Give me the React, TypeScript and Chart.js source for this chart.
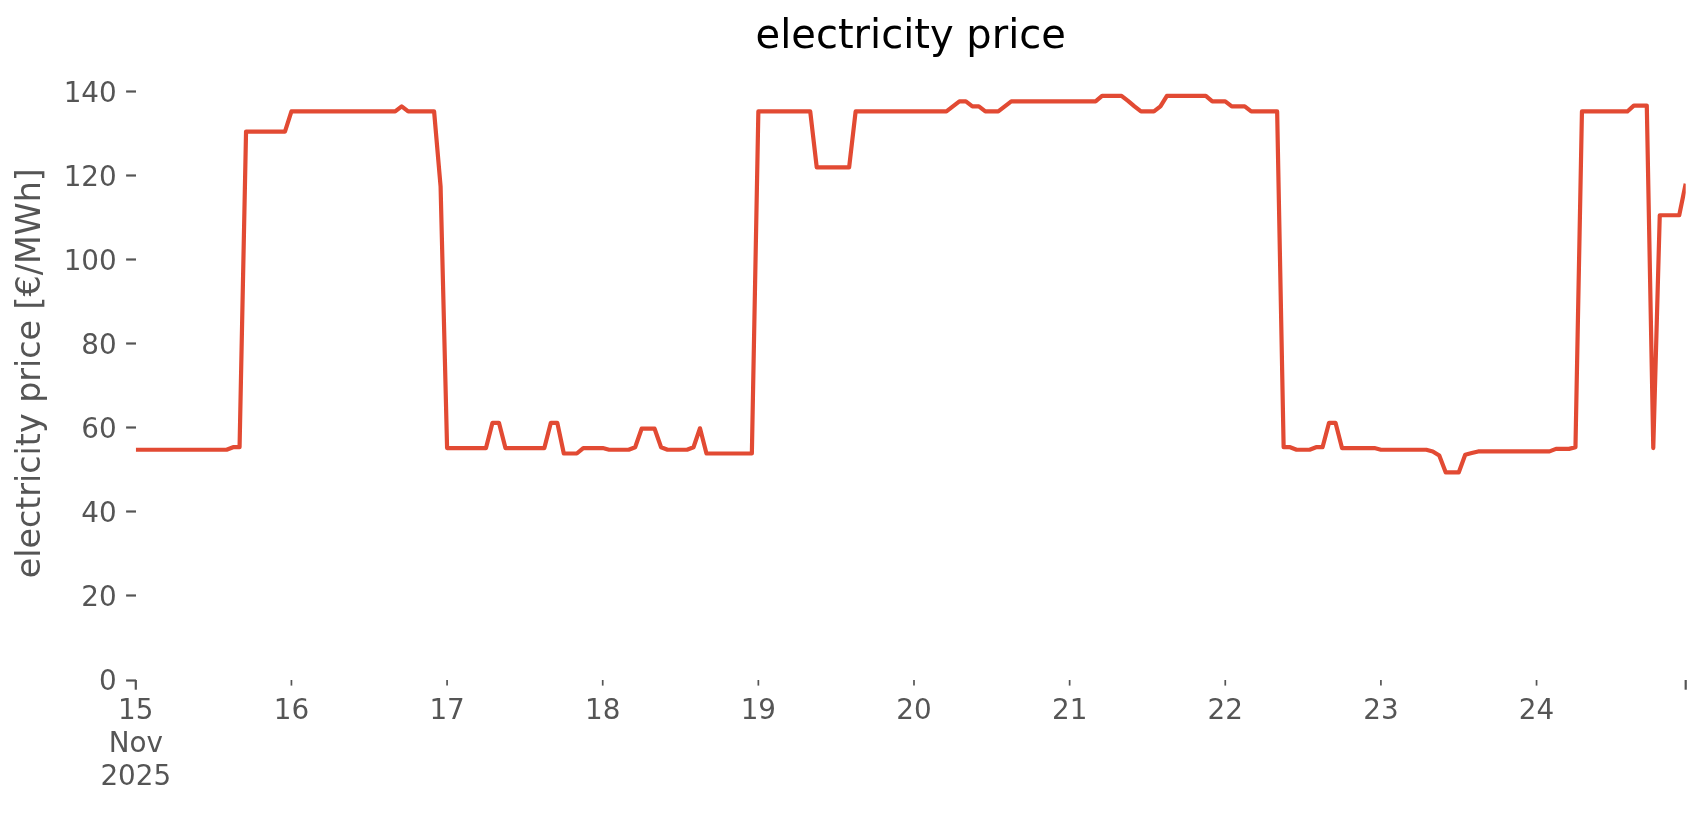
import React, { useEffect, useRef } from "react";
import { Chart, registerables } from "chart.js";

Chart.register(...registerables);

// Hourly electricity prices [€/MWh], one array per day (00:00 .. 23:00)
const nov15 = [54.8, 54.8, 54.8, 54.8, 54.8, 54.8, 54.8, 54.8, 54.8, 54.8, 54.8, 54.8, 54.8, 54.8, 54.8, 55.4, 55.4, 130.5, 130.5, 130.5, 130.5, 130.5, 130.5, 130.5];
const nov16 = [135.3, 135.3, 135.3, 135.3, 135.3, 135.3, 135.3, 135.3, 135.3, 135.3, 135.3, 135.3, 135.3, 135.3, 135.3, 135.3, 135.3, 136.5, 135.3, 135.3, 135.3, 135.3, 135.3, 117.4];
const nov17 = [55.2, 55.2, 55.2, 55.2, 55.2, 55.2, 55.2, 61.2, 61.2, 55.2, 55.2, 55.2, 55.2, 55.2, 55.2, 55.2, 61.2, 61.2, 53.9, 53.9, 53.9, 55.2, 55.2, 55.2];
const nov18 = [55.2, 54.8, 54.8, 54.8, 54.8, 55.4, 59.8, 59.8, 59.8, 55.4, 54.8, 54.8, 54.8, 54.8, 55.4, 59.9, 53.9, 53.9, 53.9, 53.9, 53.9, 53.9, 53.9, 53.9];
const nov19 = [135.3, 135.3, 135.3, 135.3, 135.3, 135.3, 135.3, 135.3, 135.3, 122.0, 122.0, 122.0, 122.0, 122.0, 122.0, 135.3, 135.3, 135.3, 135.3, 135.3, 135.3, 135.3, 135.3, 135.3];
const nov20 = [135.3, 135.3, 135.3, 135.3, 135.3, 135.3, 136.5, 137.7, 137.7, 136.5, 136.5, 135.3, 135.3, 135.3, 136.5, 137.7, 137.7, 137.7, 137.7, 137.7, 137.7, 137.7, 137.7, 137.7];
const nov21 = [137.7, 137.7, 137.7, 137.7, 137.7, 139.0, 139.0, 139.0, 139.0, 137.8, 136.5, 135.3, 135.3, 135.3, 136.5, 139.0, 139.0, 139.0, 139.0, 139.0, 139.0, 139.0, 137.7, 137.7];
const nov22 = [137.7, 136.5, 136.5, 136.5, 135.3, 135.3, 135.3, 135.3, 135.3, 55.4, 55.4, 54.8, 54.8, 54.8, 55.4, 55.4, 61.2, 61.2, 55.2, 55.2, 55.2, 55.2, 55.2, 55.2];
const nov23 = [54.8, 54.8, 54.8, 54.8, 54.8, 54.8, 54.8, 54.8, 54.4, 53.4, 49.4, 49.4, 49.4, 53.6, 54.0, 54.4, 54.4, 54.4, 54.4, 54.4, 54.4, 54.4, 54.4, 54.4];
const nov24 = [54.4, 54.4, 54.4, 55.0, 55.0, 55.0, 55.4, 135.3, 135.3, 135.3, 135.3, 135.3, 135.3, 135.3, 135.3, 136.7, 136.7, 136.7, 55.2, 110.6, 110.6, 110.6, 110.6, 118.1];

const dayLabels = ["15", "16", "17", "18", "19", "20", "21", "22", "23", "24"];
const monthLabel = "Nov";
const yearLabel = "2025";
const yTickValues = [0, 20, 40, 60, 80, 100, 120, 140];
const titleText = "electricity price";
const yAxisLabel = "electricity price [€/MWh]";

const prices = [...nov15, ...nov16, ...nov17, ...nov18, ...nov19, ...nov20, ...nov21, ...nov22, ...nov23, ...nov24];
const hoursPerDay = 24;
const lastHour = prices.length - 1;
const points = prices.map((v, i) => ({ x: i, y: v }));
const xTickValues = [...dayLabels.map((_, i) => i * hoursPerDay), lastHour];
const xTickLabels: (string | string[])[] = [
  [dayLabels[0], monthLabel, yearLabel],
  ...dayLabels.slice(1),
  "",
];

const FONT = "DejaVu Sans";
const GREY = "#555555";
const LINE = "#E24A33";

const xTickPlugin = {
  id: "xTickMarks",
  afterDraw(chart: any) {
    const sx = chart.scales.x;
    const ctx = chart.ctx;
    const y0 = chart.chartArea.bottom;
    ctx.save();
    ctx.strokeStyle = GREY;
    sx.ticks.forEach((t: any, i: number) => {
      const major = i === 0 || i === sx.ticks.length - 1;
      const px = sx.getPixelForValue(t.value);
      ctx.lineWidth = major ? 2.2 : 1.7;
      ctx.beginPath();
      ctx.moveTo(px, y0);
      ctx.lineTo(px, y0 + (major ? 9.7 : 5.6));
      ctx.stroke();
    });
    ctx.restore();
  },
};

export default function App() {
  const ref = useRef<HTMLCanvasElement | null>(null);

  useEffect(() => {
    document.body.style.margin = "0";
    const canvas = ref.current;
    if (!canvas) return;
    const chart = new Chart(canvas, {
      type: "line",
      data: {
        datasets: [
          {
            data: points,
            borderColor: LINE,
            backgroundColor: LINE,
            borderWidth: 4.2,
            pointRadius: 0,
            tension: 0,
            borderJoinStyle: "round",
            clip: 0,
          } as any,
        ],
      },
      options: {
        animation: false,
        responsive: false,
        devicePixelRatio: 1,
        layout: { padding: { left: 0, right: 20.3, top: 0, bottom: 0 } },
        plugins: {
          legend: { display: false },
          tooltip: { enabled: false },
          title: {
            display: true,
            fullSize: false,
            text: titleText,
            color: "#000000",
            font: { family: FONT, size: 40, weight: "normal" },
            padding: { top: 13.2, bottom: 5.3 },
          },
        },
        scales: {
          x: {
            type: "linear",
            min: 0,
            max: lastHour,
            afterBuildTicks: (s: any) => {
              s.ticks = xTickValues.map((v) => ({ value: v }));
            },
            afterFit: (s: any) => {
              s.height = 135;
            },
            grid: {
              display: true,
              drawOnChartArea: false,
              drawTicks: true,
              tickLength: 9.7,
              tickColor: "rgba(0,0,0,0)",
            },
            border: { display: false },
            ticks: {
              autoSkip: false,
              maxRotation: 0,
              minRotation: 0,
              padding: 4.9,
              color: GREY,
              font: { family: FONT, size: 27.8, lineHeight: 1.2 },
              callback: (_v: any, i: number) => xTickLabels[i],
            },
          },
          y: {
            min: 0,
            max: 146,
            afterBuildTicks: (s: any) => {
              s.ticks = yTickValues.map((v) => ({ value: v }));
            },
            afterFit: (s: any) => {
              s.width = 135.8;
            },
            grid: {
              display: true,
              drawOnChartArea: false,
              drawTicks: true,
              tickLength: 9.7,
              tickWidth: 2.2,
              tickColor: GREY,
            },
            border: { display: false },
            ticks: {
              padding: 9.4,
              labelOffset: 2.8,
              color: GREY,
              font: { family: FONT, size: 27.8 },
            },
            title: {
              display: true,
              text: yAxisLabel,
              color: GREY,
              font: { family: FONT, size: 33.3, weight: "normal" },
              padding: { top: 11.8, bottom: 0 },
            },
          },
        },
      },
      plugins: [xTickPlugin],
    });
    return () => chart.destroy();
  }, []);

  return (
    <div style={{ width: 1706, height: 815, background: "#ffffff" }}>
      <canvas ref={ref} width={1706} height={815} style={{ display: "block" }} />
    </div>
  );
}
